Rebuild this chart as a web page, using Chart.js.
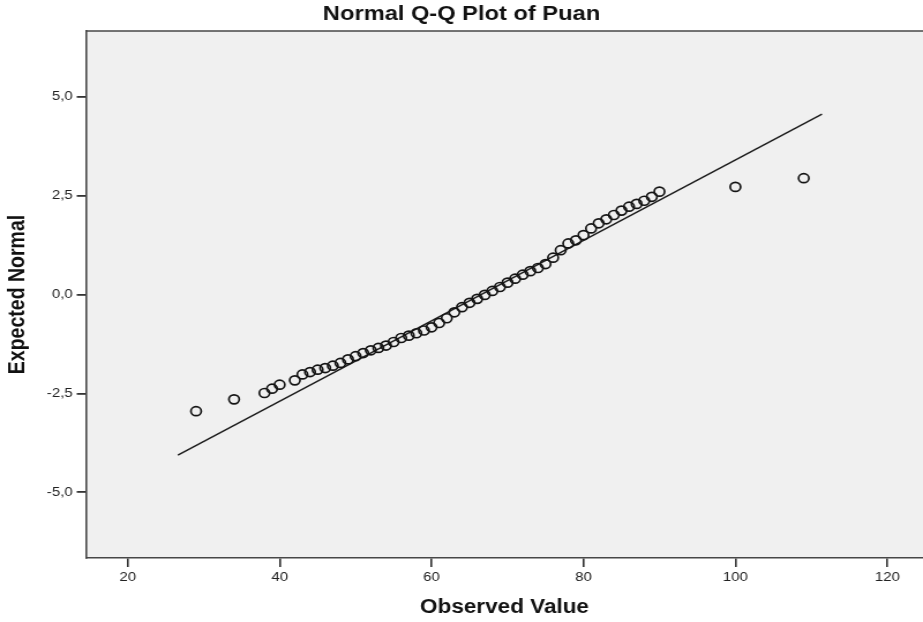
<!DOCTYPE html>
<html>
<head>
<meta charset="utf-8">
<script src="https://cdn.jsdelivr.net/npm/chart.js@4.4.1/dist/chart.umd.min.js"></script>
<style>
  html, body { margin: 0; padding: 0; background: #fff; overflow: hidden; }
  /* the original picture is stretched sideways, so the whole chart is too */
  #wrap { width: 800px; height: 622px; transform: scaleX(1.15375); transform-origin: 0 0; }
</style>
</head>
<body>
<div id="wrap"><canvas id="qq" width="800" height="622"></canvas></div>
<script>
// Observed values (one point per distinct score) and their expected normal quantiles
var observed = [29, 34, 38, 39, 40, 42, 43, 44, 45, 46, 47, 48, 49, 50, 51, 52, 53, 54, 55, 56,
                57, 58, 59, 60, 61, 62, 63, 64, 65, 66, 67, 68, 69, 70, 71, 72, 73, 74, 75, 76,
                77, 78, 79, 80, 81, 82, 83, 84, 85, 86, 87, 88, 89, 90, 100, 109];
var expected = [-2.95, -2.65, -2.49, -2.38, -2.28, -2.17, -2.02, -1.96, -1.90, -1.86, -1.80, -1.73, -1.64, -1.56, -1.48, -1.41, -1.35, -1.29, -1.20, -1.10,
                -1.04, -0.98, -0.91, -0.83, -0.72, -0.60, -0.45, -0.32, -0.21, -0.11, -0.01, 0.09, 0.19, 0.30, 0.40, 0.50, 0.59, 0.67, 0.77, 0.93,
                1.12, 1.29, 1.37, 1.50, 1.67, 1.80, 1.90, 2.01, 2.12, 2.22, 2.29, 2.37, 2.47, 2.60, 2.72, 2.94];

// reference line end points
var lineX = [26.6, 111.4];
var lineY = [-4.06, 4.56];

var xTicks = [20, 40, 60, 80, 100, 120];
var yTicks = [-5, -2.5, 0, 2.5, 5];

var points = observed.map(function(v, i) { return { x: v, y: expected[i] }; });
var linePts = lineX.map(function(v, i) { return { x: v, y: lineY[i] }; });

var frame = {
    id: 'frame',
    beforeDraw: function(chart) {
        var ctx = chart.ctx, a = chart.chartArea;
        ctx.save();
        ctx.fillStyle = '#f0f0f0';
        ctx.fillRect(a.left, a.top, a.right - a.left, a.bottom - a.top);
        ctx.strokeStyle = '#474747';
        ctx.lineWidth = 1.6;
        ctx.beginPath();
        ctx.moveTo(a.left, a.top);
        ctx.lineTo(a.right, a.top);
        ctx.stroke();
        ctx.restore();
    }
};

var tickFont = { family: '"Liberation Sans", Arial, sans-serif', size: 13 };
var titleFont = { family: '"Liberation Sans", Arial, sans-serif', size: 19.5, weight: 'bold' };

new Chart(document.getElementById('qq').getContext('2d'), {
    type: 'scatter',
    data: {
        datasets: [{
            data: points,
            pointStyle: 'circle',
            pointRadius: 4.5,
            pointBorderWidth: 1.7,
            pointBorderColor: '#141414',
            pointBackgroundColor: 'rgba(0,0,0,0)'
        }, {
            type: 'line',
            data: linePts,
            borderColor: '#1a1a1a',
            borderWidth: 1.4,
            pointRadius: 0,
            fill: false
        }]
    },
    options: {
        responsive: false,
        animation: false,
        devicePixelRatio: 1,
        layout: { padding: 0, autoPadding: false },
        plugins: {
            legend: { display: false },
            tooltip: { enabled: false },
            title: {
                display: true,
                text: 'Normal Q-Q Plot of Puan',
                color: '#111',
                font: { family: '"Liberation Sans", Arial, sans-serif', size: 20.5, weight: 'bold' },
                padding: { top: 2, bottom: 4.4 }
            }
        },
        scales: {
            x: {
                type: 'linear',
                min: 14.5,
                max: 124.7,
                afterBuildTicks: function(s) { s.ticks = xTicks.map(function(v) { return { value: v }; }); },
                afterFit: function(s) { s.height = 64; s.paddingLeft = 0; s.paddingRight = 0; },
                grid: { drawOnChartArea: false, drawTicks: true, tickLength: 9, tickColor: '#333', lineWidth: 1.6 },
                border: { display: true, color: '#474747', width: 1.6 },
                ticks: { color: '#222', font: tickFont, padding: 3, maxRotation: 0 },
                title: { display: true, text: 'Observed Value', color: '#111', font: titleFont, padding: { top: 0, bottom: 3 } }
            },
            y: {
                type: 'linear',
                min: -6.66,
                max: 6.66,
                afterBuildTicks: function(s) { s.ticks = yTicks.map(function(v) { return { value: v }; }); },
                afterFit: function(s) { s.width = 74.5; s.paddingTop = 0; s.paddingBottom = 0; },
                grid: { drawOnChartArea: false, drawTicks: true, tickLength: 8, tickColor: '#333', lineWidth: 1.8 },
                border: { display: true, color: '#474747', width: 1.6 },
                ticks: {
                    color: '#222',
                    font: tickFont,
                    padding: 3.5,
                    callback: function(v) { return v.toFixed(1).replace('.', ','); }
                },
                title: { display: true, text: 'Expected Normal', color: '#111', font: titleFont, padding: { top: 4, bottom: 0 } }
            }
        }
    },
    plugins: [frame]
});
</script>
</body>
</html>
